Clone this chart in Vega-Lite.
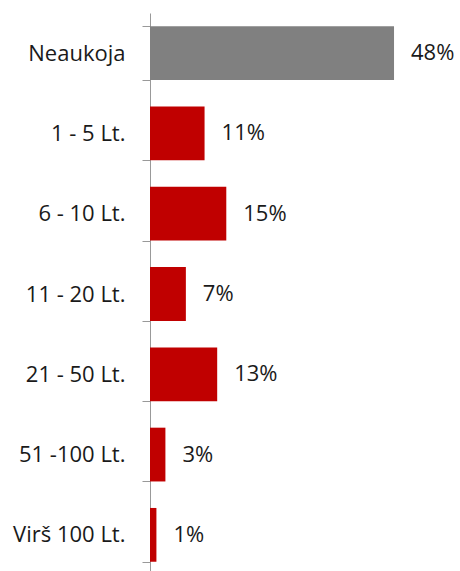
{
  "$schema": "https://vega.github.io/schema/vega-lite/v6.json",
  "width": 290,
  "height": 562,
  "autosize": {"type": "none"},
  "padding": {"left": 150, "top": 13, "right": 20, "bottom": 0},
  "background": "white",
  "config": {"view": {"stroke": null}},
  "data": {
    "values": [
      {"category": "Neaukoja", "value": 48.3, "label": "48%", "group": "none"},
      {"category": "1 - 5 Lt.", "value": 10.8, "label": "11%", "group": "paid"},
      {"category": "6 - 10 Lt.", "value": 15.1, "label": "15%", "group": "paid"},
      {"category": "11 - 20 Lt.", "value": 7.1, "label": "7%", "group": "paid"},
      {"category": "21 - 50 Lt.", "value": 13.3, "label": "13%", "group": "paid"},
      {"category": "51 -100 Lt.", "value": 3.05, "label": "3%", "group": "paid"},
      {"category": "Virš 100 Lt.", "value": 1.27, "label": "1%", "group": "paid"}
    ]
  },
  "encoding": {
    "y": {
      "field": "category",
      "type": "nominal",
      "sort": null,
      "scale": {"paddingInner": 0.33, "paddingOuter": 0.165},
      "axis": {
        "title": null,
        "tickBand": "extent",
        "tickSize": 8,
        "tickColor": "#999999",
        "domainColor": "#999999",
        "labelPadding": 17,
        "labelFont": "Open Sans",
        "labelFontSize": 22,
        "labelColor": "#1a1a1a",
        "labelLimit": 200
      }
    },
    "x": {
      "field": "value",
      "type": "quantitative",
      "scale": {"domain": [0, 57.4], "nice": false, "zero": true},
      "axis": null
    }
  },
  "layer": [
    {
      "mark": {"type": "bar"},
      "encoding": {
        "color": {
          "field": "group",
          "type": "nominal",
          "scale": {"domain": ["none", "paid"], "range": ["#808080", "#c00000"]},
          "legend": null
        }
      }
    },
    {
      "mark": {"type": "text", "align": "left", "baseline": "middle", "dx": 17, "font": "Open Sans", "fontSize": 22, "color": "#1a1a1a"},
      "encoding": {"text": {"field": "label"}}
    }
  ]
}
